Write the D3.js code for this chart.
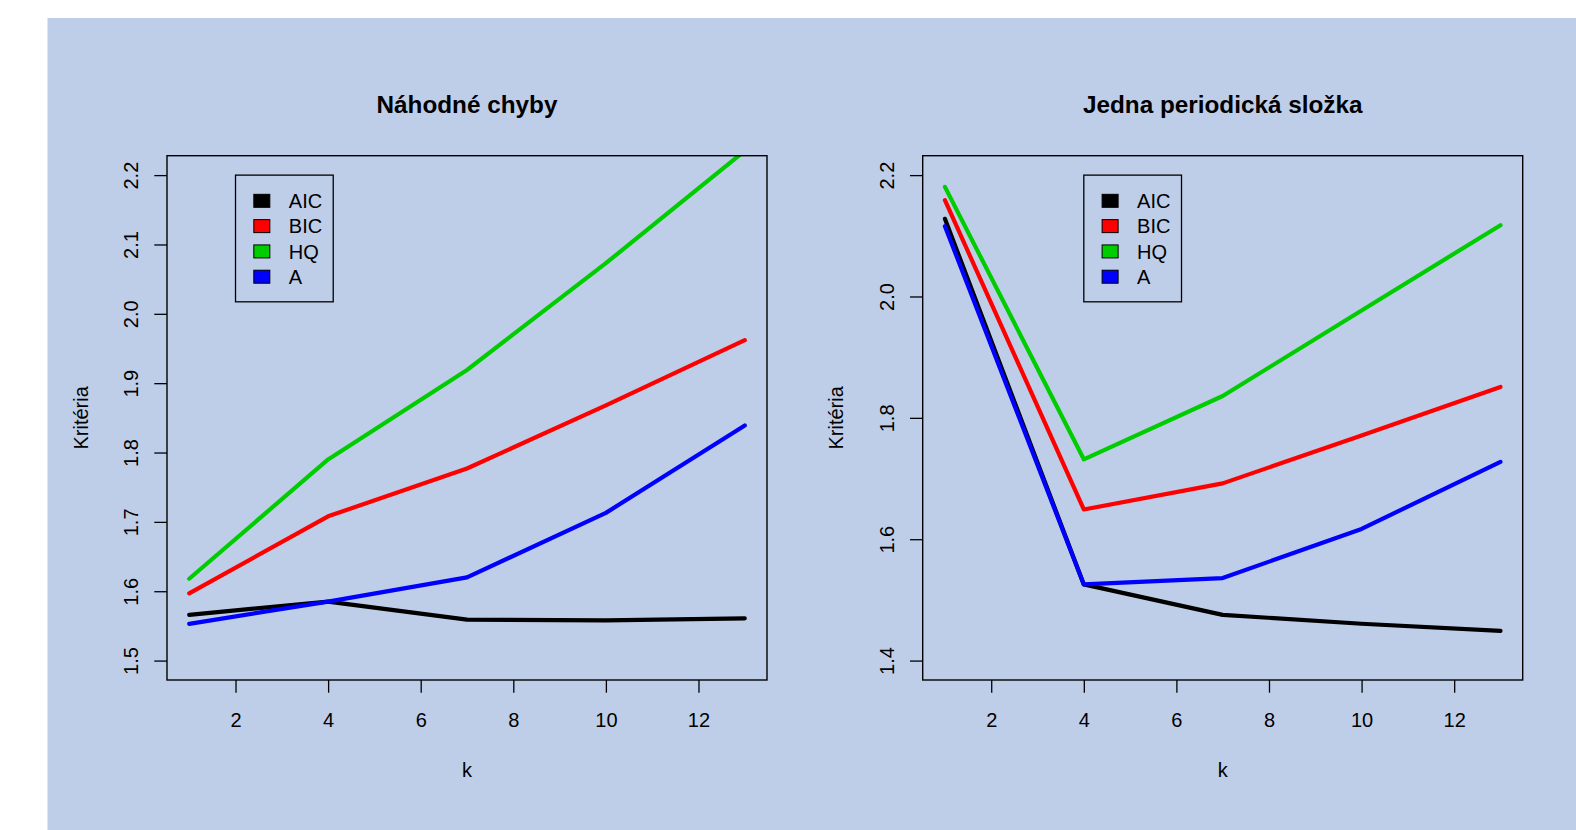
<!DOCTYPE html>
<html>
<head>
<meta charset="utf-8">
<script src="https://cdn.jsdelivr.net/npm/d3@7"></script>
<style>
  body { margin: 0; background: #ffffff; }
  text { font-family: "Liberation Sans", Arial, Helvetica, sans-serif; fill: #000; }
</style>
</head>
<body>
<svg id="my-svg"></svg>
<script>
// data
const kVals = [1, 4, 7, 10, 13];
const xTicks = [2, 4, 6, 8, 10, 12];
const seriesNames = ['AIC', 'BIC', 'HQ', 'A'];
const seriesColors = ['#000000', '#ff0000', '#00cd00', '#0000ff'];

// panel 1: Náhodné chyby
const aic1 = [1.566, 1.585, 1.559, 1.558, 1.561];
const bic1 = [1.597, 1.708, 1.777, 1.868, 1.962];
const hq1  = [1.618, 1.790, 1.919, 2.073, 2.235];
const a1   = [1.553, 1.585, 1.620, 1.713, 1.839];
const yTicks1 = [1.5, 1.6, 1.7, 1.8, 1.9, 2.0, 2.1, 2.2];

// panel 2: Jedna periodická složka
const aic2 = [2.128, 1.5255, 1.4754, 1.4607, 1.449];
const bic2 = [2.1588, 1.649, 1.692, 1.771, 1.851];
const hq2  = [2.1806, 1.7317, 1.836, 1.977, 2.1175];
const a2   = [2.1158, 1.5255, 1.536, 1.617, 1.7275];
const yTicks2 = [1.4, 1.6, 1.8, 2.0, 2.2];

let svg = d3.select("#my-svg")
      .attr('width', 1576)
      .attr('height', 830);

svg.append('rect')
    .attr('x', 47.5).attr('y', 18)
    .attr('width', 1576 - 47.5).attr('height', 830 - 18)
    .attr('fill', '#bfcee8');

function panel(id, left, title, series, ylim, yTicks, legendK){
    let top = 155.7, bottom = 680, right = left + 600;
    let xs = d3.scaleLinear().domain([0.52, 13.48]).range([left, right]);
    let pad = (ylim[1] - ylim[0]) * 0.04;
    let ys = d3.scaleLinear().domain([ylim[0] - pad, ylim[1] + pad]).range([bottom, top]);

    let g = svg.append('g').attr('id', id);

    g.append('clipPath').attr('id', id + '-clip')
      .append('rect')
        .attr('x', left).attr('y', top)
        .attr('width', right - left).attr('height', bottom - top);

    // title
    g.append('text')
        .attr('x', (left + right) / 2).attr('y', 112.5)
        .attr('text-anchor', 'middle')
        .style('font-size', '24.3px').style('font-weight', 'bold')
        .text(title);

    // x axis
    let xa = g.append('g')
        .attr('transform', 'translate(0,' + bottom + ')')
        .call(d3.axisBottom(xs).tickValues(xTicks).tickSize(12.7).tickFormat(d3.format('d')));
    xa.select('.domain').remove();
    xa.selectAll('line').attr('stroke', '#000').attr('stroke-width', 1.3);
    xa.selectAll('text')
        .attr('y', 46.7).attr('dy', 0)
        .style('font-size', '20px').style('font-family', '"Liberation Sans", Arial, sans-serif')
        .attr('fill', '#000');

    // y axis
    let ya = g.append('g')
        .attr('transform', 'translate(' + left + ',0)')
        .call(d3.axisLeft(ys).tickValues(yTicks).tickSize(12.7).tickFormat(d3.format('.1f')));
    ya.select('.domain').remove();
    ya.selectAll('line').attr('stroke', '#000').attr('stroke-width', 1.3);
    ya.selectAll('text')
        .attr('transform', 'rotate(-90)')
        .attr('x', 0).attr('y', -28.7).attr('dy', 0)
        .attr('text-anchor', 'middle')
        .style('font-size', '20px').style('font-family', '"Liberation Sans", Arial, sans-serif')
        .attr('fill', '#000');

    // axis labels
    g.append('text')
        .attr('x', (left + right) / 2).attr('y', 776.7)
        .attr('text-anchor', 'middle')
        .style('font-size', '20px')
        .text('k');
    g.append('text')
        .attr('transform', 'translate(' + (left - 79.3) + ',' + ((top + bottom) / 2) + ') rotate(-90)')
        .attr('text-anchor', 'middle')
        .style('font-size', '20px')
        .text('Kritéria');

    // lines
    let line = d3.line()
        .x((d, i) => xs(kVals[i]))
        .y(d => ys(d));
    g.append('g').attr('clip-path', 'url(#' + id + '-clip)')
      .selectAll('path.series')
      .data(series)
      .enter().append('path')
        .attr('class', 'series')
        .attr('d', d => line(d))
        .attr('fill', 'none')
        .attr('stroke', (d, i) => seriesColors[i])
        .attr('stroke-width', 4.2)
        .attr('stroke-linejoin', 'round')
        .attr('stroke-linecap', 'round');

    // box
    g.append('rect')
        .attr('x', left).attr('y', top)
        .attr('width', right - left).attr('height', bottom - top)
        .attr('fill', 'none').attr('stroke', '#000').attr('stroke-width', 1.4);

    // legend, top-left corner at (legendK, top tick)
    let lx = xs(legendK), ly = ys(yTicks[yTicks.length - 1]);
    let lg = g.append('g').attr('transform', 'translate(' + lx + ',' + ly + ')');
    lg.append('rect')
        .attr('width', 97.7).attr('height', 126.7)
        .attr('fill', 'none').attr('stroke', '#000').attr('stroke-width', 1.3);
    let items = lg.selectAll('g.item')
        .data(seriesNames)
        .enter().append('g')
          .attr('class', 'item')
          .attr('transform', (d, i) => 'translate(0,' + (25.7 + i * 25.3) + ')');
    items.append('rect')
        .attr('x', 18.3).attr('y', -6.5)
        .attr('width', 16).attr('height', 13)
        .attr('fill', (d, i) => seriesColors[i])
        .attr('stroke', '#000').attr('stroke-width', 1);
    items.append('text')
        .attr('x', 53.3).attr('y', 7.2)
        .style('font-size', '20px')
        .text(d => d);
}

panel('p1', 167, 'Náhodné chyby', [aic1, bic1, hq1, a1], [1.5, 2.2], yTicks1, 2);
panel('p2', 922.7, 'Jedna periodická složka', [aic2, bic2, hq2, a2], [1.4, 2.2], yTicks2, 4);
</script>
</body>
</html>
